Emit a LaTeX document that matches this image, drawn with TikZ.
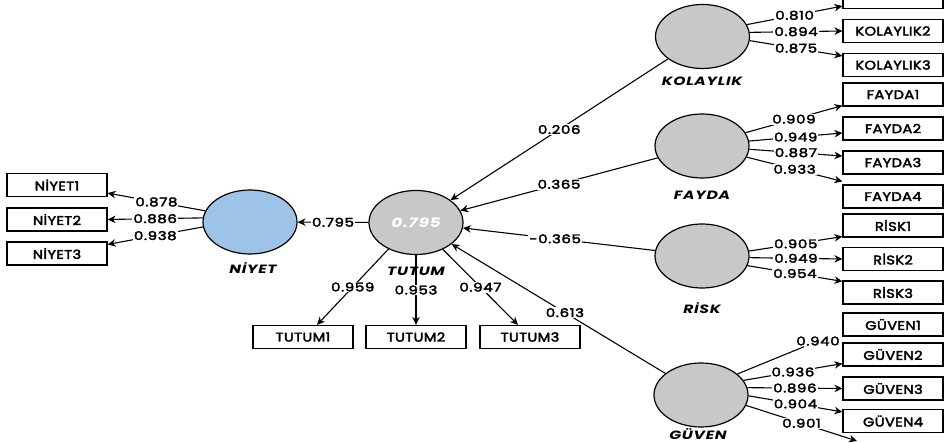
\documentclass[tikz,border=0pt]{standalone}
\usepackage{fontspec}
\setmainfont{Poppins}
\newfontfamily\mf{Poppins}[FakeBold=3,FakeStretch=1.17,LetterSpace=3]
\newfontfamily\lf{Poppins}[FakeBold=3,FakeStretch=1.25,LetterSpace=5]
\newfontfamily\nf{Poppins}[FakeStretch=1.3,LetterSpace=6]
\usetikzlibrary{shapes.geometric,arrows.meta}
\definecolor{latgray}{RGB}{200,200,200}
\definecolor{latblue}{RGB}{157,195,230}
\begin{document}
\begin{tikzpicture}[x=1pt,y=-1pt,
  lat/.style={ellipse,draw,line width=1.2pt,fill=latgray,minimum width=94pt,minimum height=64pt,inner sep=0pt},
  ind/.style={rectangle,draw,line width=1.2pt,minimum width=100pt,minimum height=23pt,inner sep=0pt,font=\mf\fontsize{12.5}{13}\selectfont},
  lab/.style={fill=white,inner sep=1pt,font=\lf\fontsize{12}{13}\selectfont},
  lname/.style={font=\nf\fontsize{12}{13}\selectfont\bfseries\itshape},
  arr/.style={-{Stealth[length=8pt,width=7.5pt]},line width=1.1pt},
  ln/.style={line width=1.1pt}]
\useasboundingbox (0,0) rectangle (945,443);
\clip (0,0) rectangle (945,443);
% latent variables
\node[lat,fill=latblue] (NIY) at (250,222) {};
\node[lat,text=white,font=\nf\fontsize{13}{14}\selectfont\bfseries\itshape] (TUT) at (416,222.5) {0.795};
\node[lat] (KOL) at (702.5,36.5) {};
\node[lat] (FAY) at (702,146) {};
\node[lat] (RIS) at (702,256) {};
\node[lat] (GUV) at (701,395) {};
% indicators
\node[ind] (N1) at (57,185) {NİYET1};
\node[ind] (N2) at (57,219.5) {NİYET2};
\node[ind] (N3) at (57,253.5) {NİYET3};
\node[ind] (T1) at (303,337) {TUTUM1};
\node[ind] (T2) at (416,337) {TUTUM2};
\node[ind] (T3) at (530,337) {TUTUM3};
\node[ind] (K1) at (893,-3) {};
\node[ind] (K2) at (893,31) {KOLAYLIK2};
\node[ind] (K3) at (893,65) {KOLAYLIK3};
\node[ind] (F1) at (893,94.5) {FAYDA1};
\node[ind] (F2) at (893,128.5) {FAYDA2};
\node[ind] (F3) at (893,162.5) {FAYDA3};
\node[ind] (F4) at (893,196.5) {FAYDA4};
\node[ind] (R1) at (893,225.5) {RİSK1};
\node[ind] (R2) at (893,259) {RİSK2};
\node[ind] (R3) at (893,292.5) {RİSK3};
\node[ind] (G1) at (893,324.5) {GÜVEN1};
\node[ind] (G2) at (893,354.5) {GÜVEN2};
\node[ind] (G3) at (893,388.5) {GÜVEN3};
\node[ind] (G4) at (893,421) {GÜVEN4};
\coordinate (G5end) at (857,441);
% structural paths
\draw[arr] (TUT) -- node[lab]{0.795} (NIY);
\draw[arr] (KOL) -- node[lab]{0.206} (TUT);
\draw[arr] (FAY) -- node[lab]{0.365} (TUT);
\draw[arr] (RIS) -- node[lab,pos=0.52]{-0.365} (TUT);
\draw[arr] (GUV) -- node[lab,pos=0.47]{0.613} (TUT);
% NIYET loadings
\draw[arr] (NIY.166) -- node[lab]{0.878} ([yshift=4pt]N1.south east);
\draw[arr] (NIY.175) -- node[lab]{0.886} (N2.east);
\draw[arr] (NIY.186) -- node[lab]{0.938} ([yshift=-3pt]N3.north east);
% TUTUM loadings
\draw[arr] (TUT.224) -- node[lab]{0.959} ([xshift=14pt]T1.north);
\draw[arr] (TUT.south) -- node[lab]{0.953} (T2.north);
\draw[arr] (TUT.315) -- node[lab]{0.947} ([xshift=-12pt]T3.north);
% KOLAYLIK loadings
\draw[arr] (KOL.15) -- node[lab]{0.810} ([yshift=3pt]K1.south west);
\draw[arr] (KOL.5) -- node[lab]{0.894} (K2.west);
\draw[arr] (KOL.-5) -- node[lab]{0.875} ([yshift=-3pt]K3.north west);
% FAYDA loadings
\draw[arr] (FAY.17) -- node[lab]{0.909} ([yshift=1pt]F1.south west);
\draw[arr] (FAY.6) -- node[lab]{0.949} ([yshift=-4.5pt]F2.west);
\draw[arr] (FAY.-4) -- node[lab]{0.887} ([yshift=6.5pt]F3.west);
\draw[arr] (FAY.-14) -- node[lab]{0.933} ([yshift=3pt]F4.north west);
% RISK loadings
\draw[arr] (RIS.6) -- node[lab]{0.905} ([yshift=1pt]R1.south west);
\draw[arr] (RIS.-2) -- node[lab]{0.949} (R2.west);
\draw[arr] (RIS.-12) -- node[lab]{0.954} ([yshift=-1pt]R3.north west);
% GUVEN loadings
\node[lab] (L940) at (818,341) {0.940};
\draw[ln] (GUV.30) -- (L940);
\draw[arr] (GUV.19) -- node[lab]{0.936} ([yshift=3pt]G2.south west);
\draw[arr] (GUV.9) -- node[lab]{0.896} (G3.west);
\draw[arr] (GUV.-1) -- node[lab]{0.904} ([yshift=-3pt]G4.north west);
\draw[arr] (GUV.-13) -- node[lab]{0.901} (G5end);
% latent names
\node[lname] (NIYn) at (253,268) {NİYET};
\node[lname] (TUTn) at (416,271) {TUTUM};
\node[lname] (KOLn) at (702,81) {KOLAYLIK};
\node[lname] (FAYn) at (702,195) {FAYDA};
\node[lname] (RISn) at (702,308) {RİSK};
\node[lname] (GUVn) at (698,434) {GÜVEN};
\end{tikzpicture}
\end{document}
